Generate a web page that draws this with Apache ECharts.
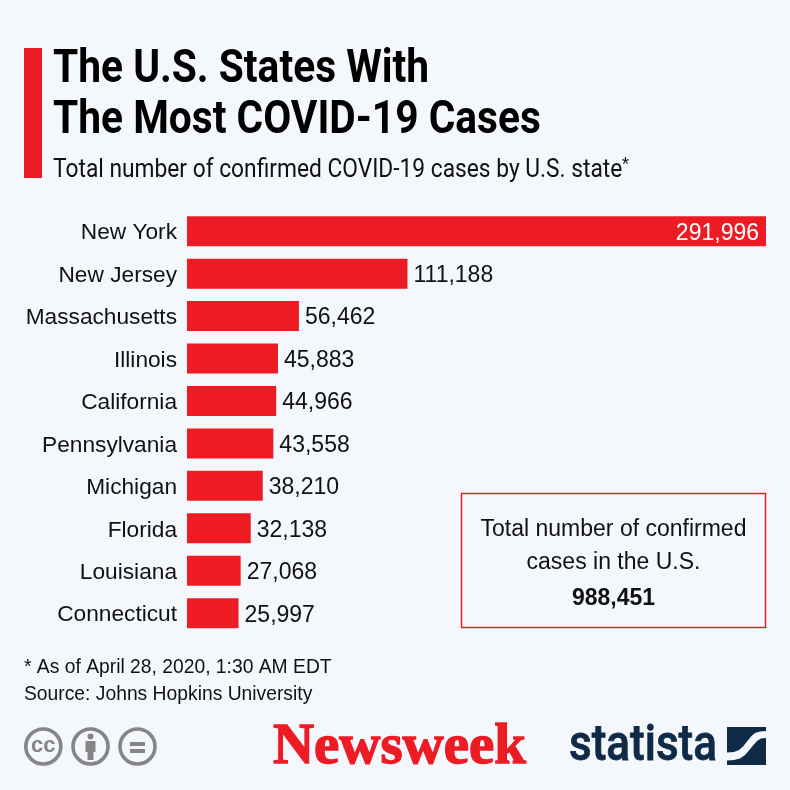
<!DOCTYPE html>
<html>
<head>
<meta charset="utf-8">
<style>
  html, body { margin: 0; padding: 0; background: #f4f8fc; }
  #chart { width: 790px; height: 790px; }
</style>
<script src="https://cdn.jsdelivr.net/npm/echarts@6/dist/echarts.min.js"></script>
</head>
<body>
<div id="chart"></div>
<script>
const states = ['New York', 'New Jersey', 'Massachusetts', 'Illinois', 'California', 'Pennsylvania', 'Michigan', 'Florida', 'Louisiana', 'Connecticut'];
const cases = [291996, 111188, 56462, 45883, 44966, 43558, 38210, 32138, 27068, 25997];
const titleLines = ['The U.S. States With', 'The Most COVID-19 Cases'];
const subtitle = 'Total number of confirmed COVID-19 cases by U.S. state';
const footnotes = ['* As of April 28, 2020, 1:30 AM EDT', 'Source: Johns Hopkins University'];
const boxLines = ['Total number of confirmed', 'cases in the U.S.'];
const boxTotal = '988,451';

const RED = '#ed1c24';
const NAVY = '#0f2a47';
const GREY = '#858585';
const BG = '#f4f8fc';
const SANS = '"Liberation Sans", Arial, sans-serif';

function fmtNum(v) {
  return v.toLocaleString('en-US');
}

// condensed look: no Roboto Condensed here, so squeeze Roboto horizontally
function squeezed(x, y, text, font, scaleX, fill, extra = {}) {
  return {
    type: 'text', x, y, scaleX, silent: true,
    style: { text, font, fill, textVerticalAlign: 'middle', ...extra },
  };
}

function centered(y, text, font) {
  return { type: 'text', x: 613.5, y, style: { text, font, fill: '#111', textAlign: 'center', textVerticalAlign: 'middle' } };
}

function ccIcons() {
  const out = [];
  [43.3, 90.5, 137.5].forEach((cx) => {
    out.push({ type: 'circle', shape: { cx, cy: 746.5, r: 17.5 }, style: { fill: 'none', stroke: GREY, lineWidth: 3.6 } });
  });
  out.push({
    type: 'text', x: 43.3, y: 745.5,
    style: { text: 'cc', font: `bold 22px ${SANS}`, fill: GREY, textAlign: 'center', textVerticalAlign: 'middle' },
  });
  // person
  out.push({ type: 'circle', shape: { cx: 90.5, cy: 736.5, r: 3 }, style: { fill: GREY } });
  out.push({ type: 'rect', shape: { x: 85.5, y: 741, width: 10, height: 11 }, style: { fill: GREY } });
  out.push({ type: 'rect', shape: { x: 87.5, y: 750, width: 6, height: 10 }, style: { fill: GREY } });
  // equals
  out.push({ type: 'rect', shape: { x: 130, y: 742, width: 15, height: 4 }, style: { fill: GREY } });
  out.push({ type: 'rect', shape: { x: 130, y: 749, width: 15, height: 4 }, style: { fill: GREY } });
  return out;
}

function statistaMark() {
  return [
    { type: 'rect', shape: { x: 727, y: 727, width: 39, height: 38 }, style: { fill: NAVY } },
    {
      type: 'polygon',
      shape: {
        points: [
          [727, 752.5], [734, 752], [739, 750], [743, 746.5], [747, 741.5], [751, 736.5], [755, 733], [760, 731.5], [766, 731],
          [766, 738], [761, 738.5], [757, 741], [753, 745.5], [749, 750.5], [745, 755], [740, 758.5], [734, 760], [727, 760.5],
        ],
      },
      style: { fill: BG },
    },
  ];
}

const chart = echarts.init(document.getElementById('chart'));
chart.setOption({
  animation: false,
  backgroundColor: BG,
  grid: { left: 187, right: 24, top: 210, height: 424.4, containLabel: false },
  xAxis: { type: 'value', min: 0, max: 291996, show: false },
  yAxis: {
    type: 'category',
    inverse: true,
    data: states,
    axisLine: { show: false },
    axisTick: { show: false },
    // top aligned with a small line box: nudges the names about 2px below the bar centre
    axisLabel: { color: '#111', fontFamily: SANS, fontSize: 22.7, margin: 10, verticalAlign: 'top', lineHeight: 4 },
  },
  series: [
    {
      type: 'bar',
      barWidth: 30,
      itemStyle: { color: RED },
      data: cases.map((v, i) => ({
        value: v,
        label: i === 0
          ? { position: 'insideRight', color: '#fff', distance: 7 }
          : { position: 'right', color: '#111', distance: 6 },
      })),
      label: {
        show: true,
        fontFamily: SANS,
        fontSize: 23,
        offset: [0, 2],
        formatter: (p) => fmtNum(p.value),
      },
    },
  ],
  graphic: [
    { type: 'rect', shape: { x: 24, y: 48, width: 18, height: 130 }, style: { fill: RED } },
    squeezed(53, 70, titleLines[0], 'bold 46px Roboto, sans-serif', 0.885, '#000'),
    squeezed(53, 121, titleLines[1], 'bold 46px Roboto, sans-serif', 0.885, '#000'),
    squeezed(53, 171, subtitle, '25px Roboto, sans-serif', 0.91, '#111'),
    squeezed(622, 165, '*', '16px Roboto, sans-serif', 1, '#111'),
    { type: 'text', x: 24, y: 667.5, style: { text: footnotes[0], font: `19.3px ${SANS}`, fill: '#111', textVerticalAlign: 'middle' } },
    { type: 'text', x: 24, y: 694.5, style: { text: footnotes[1], font: `19.3px ${SANS}`, fill: '#111', textVerticalAlign: 'middle' } },
    { type: 'rect', shape: { x: 461.5, y: 493.5, width: 304, height: 134 }, style: { fill: 'none', stroke: RED, lineWidth: 1.5 } },
    centered(529.5, boxLines[0], `23px ${SANS}`),
    centered(562.5, boxLines[1], `23px ${SANS}`),
    centered(599, boxTotal, `bold 23px ${SANS}`),
    ...ccIcons(),
    squeezed(273, 749, 'Newsweek', '900 56px "Liberation Serif", serif', 1.016, RED, { stroke: RED, lineWidth: 1.4 }),
    squeezed(569, 747, 'statista', '500 50px Roboto, sans-serif', 0.88, NAVY, { stroke: NAVY, lineWidth: 0.8 }),
    ...statistaMark(),
  ],
});
</script>
</body>
</html>
